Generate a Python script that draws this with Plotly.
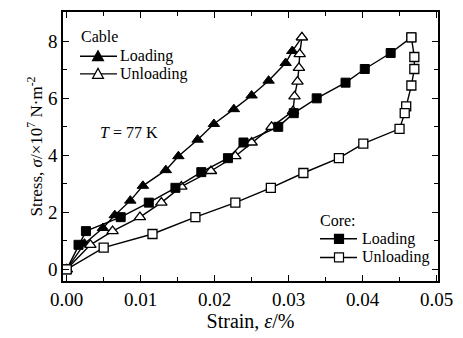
import plotly.graph_objects as go

# Cable data (strain %, stress x1e7 N/m^2)
cable_load_x = [0.0, 0.0024, 0.0049, 0.0065, 0.0086, 0.0103, 0.0134, 0.0151, 0.0177, 0.0199, 0.0226, 0.0250, 0.0273, 0.0296, 0.0305, 0.0318]
cable_load_y = [0.0, 0.90, 1.45, 1.90, 2.41, 2.93, 3.48, 3.97, 4.55, 5.10, 5.62, 6.10, 6.62, 7.24, 7.66, 8.14]
cable_unload_x = [0.0318, 0.0315, 0.0314, 0.0312, 0.0308, 0.0306, 0.0277, 0.0250, 0.0228, 0.0195, 0.0155, 0.0128, 0.0099, 0.0062, 0.0032, 0.0]
cable_unload_y = [8.14, 7.55, 7.07, 6.59, 6.07, 5.55, 5.00, 4.45, 3.97, 3.45, 2.90, 2.34, 1.83, 1.34, 0.86, 0.0]

# Core data
core_load_x = [0.0, 0.0016, 0.0026, 0.0073, 0.0111, 0.0147, 0.0182, 0.0218, 0.0239, 0.0286, 0.0307, 0.0338, 0.0377, 0.0403, 0.0438, 0.0466]
core_load_y = [0.0, 0.86, 1.34, 1.83, 2.34, 2.86, 3.41, 3.90, 4.45, 5.00, 5.48, 6.00, 6.55, 7.03, 7.59, 8.14]
core_unload_x = [0.0466, 0.0470, 0.0470, 0.0466, 0.0459, 0.0457, 0.0450, 0.0401, 0.0368, 0.0320, 0.0276, 0.0228, 0.0174, 0.0116, 0.0050, 0.0]
core_unload_y = [8.14, 7.45, 7.03, 6.45, 5.72, 5.48, 4.93, 4.41, 3.90, 3.38, 2.86, 2.34, 1.83, 1.24, 0.76, 0.0]

x_ticks = [0.0, 0.01, 0.02, 0.03, 0.04, 0.05]
x_ticklabels = ["0.00", "0.01", "0.02", "0.03", "0.04", "0.05"]
y_ticks = [0, 2, 4, 6, 8]

FONT = "Liberation Serif, Times New Roman, serif"
line = dict(color="black", width=1.4)

TRI = "M -5.5,-4.5 L 5.5,-4.5 L 0,5.5 Z"
SQ = "M -4.5,-4.5 L 4.5,-4.5 L 4.5,4.5 L -4.5,4.5 Z"

fig = go.Figure()
fig.add_trace(go.Scatter(x=cable_load_x, y=cable_load_y, mode="lines+markers", name="Cable Loading",
                         line=line, marker=dict(symbol="triangle-up", size=10, color="black",
                                                line=dict(color="black", width=1))))
fig.add_trace(go.Scatter(x=cable_unload_x, y=cable_unload_y, mode="lines+markers", name="Cable Unloading",
                         line=line, marker=dict(symbol="triangle-up", size=10, color="white",
                                                line=dict(color="black", width=1.3))))
fig.add_trace(go.Scatter(x=core_load_x, y=core_load_y, mode="lines+markers", name="Core Loading",
                         line=line, marker=dict(symbol="square", size=9, color="black",
                                                line=dict(color="black", width=1))))
fig.add_trace(go.Scatter(x=core_unload_x, y=core_unload_y, mode="lines+markers", name="Core Unloading",
                         line=line, marker=dict(symbol="square", size=9, color="white",
                                                line=dict(color="black", width=1.3))))

# plot area in pixels: left 63, right 438, top 10, bottom 284
def px2x(px):
    return (px - 63) / 375.0

def py2y(py):
    return (284 - py) / 274.0

shapes = []
annotations = []

def legend_entry(x0, x1, xm, y, path, fill, text, tx):
    shapes.append(dict(type="line", xref="paper", yref="paper", x0=px2x(x0), x1=px2x(x1),
                       y0=py2y(y), y1=py2y(y), line=dict(color="black", width=1.4)))
    shapes.append(dict(type="path", xref="paper", yref="paper", xsizemode="pixel", ysizemode="pixel",
                       xanchor=px2x(xm), yanchor=py2y(y), path=path, fillcolor=fill,
                       line=dict(color="black", width=1.2)))
    annotations.append(dict(text=text, x=px2x(tx), y=py2y(y), xref="paper", yref="paper",
                            xanchor="left", yanchor="middle", showarrow=False,
                            font=dict(family=FONT, size=16, color="black")))

def label(text, tx, ty, anchor="left"):
    annotations.append(dict(text=text, x=px2x(tx), y=py2y(ty), xref="paper", yref="paper",
                            xanchor=anchor, yanchor="middle", showarrow=False,
                            font=dict(family=FONT, size=16, color="black")))

label("Cable", 79, 35)
legend_entry(80, 117, 98, 55, TRI, "black", "Loading", 118)
legend_entry(80, 117, 98, 73, TRI, "white", "Unloading", 118)
label("Core:", 318, 222)
legend_entry(320, 357, 339, 241, SQ, "black", "Loading", 360)
legend_entry(320, 357, 339, 260, SQ, "white", "Unloading", 360)
label("<i>T</i> = 77 K", 129, 133, anchor="center")

axis_common = dict(
    showline=True, linecolor="black", linewidth=1.5, mirror="ticks",
    ticks="inside", ticklen=6, tickwidth=1.2, tickcolor="black",
    showgrid=False, zeroline=False,
    tickfont=dict(family=FONT, size=19, color="black"),
)

fig.update_layout(
    width=463, height=338,
    margin=dict(l=63, r=25, t=10, b=54),
    paper_bgcolor="white", plot_bgcolor="white",
    font=dict(family=FONT, color="black"),
    showlegend=False,
    xaxis=dict(range=[-0.0005, 0.0502], tickvals=x_ticks, ticktext=x_ticklabels,
               minor=dict(dtick=0.005, tick0=0, ticks="inside", ticklen=4, tickcolor="black", tickwidth=1.2, showgrid=False),
               title=dict(text="Strain, <i>ε</i>/%", font=dict(family=FONT, size=20), standoff=4),
               **axis_common),
    yaxis=dict(range=[-0.41, 9.03], tickvals=y_ticks,
               minor=dict(dtick=1, tick0=0, ticks="inside", ticklen=4, tickcolor="black", tickwidth=1.2, showgrid=False),
               title=dict(text="Stress, <i>σ</i>/×10<sup>7</sup> N·m<sup>-2</sup>", font=dict(family=FONT, size=17), standoff=1),
               **axis_common),
    shapes=shapes,
    annotations=annotations,
)

fig.write_html("out.html")
